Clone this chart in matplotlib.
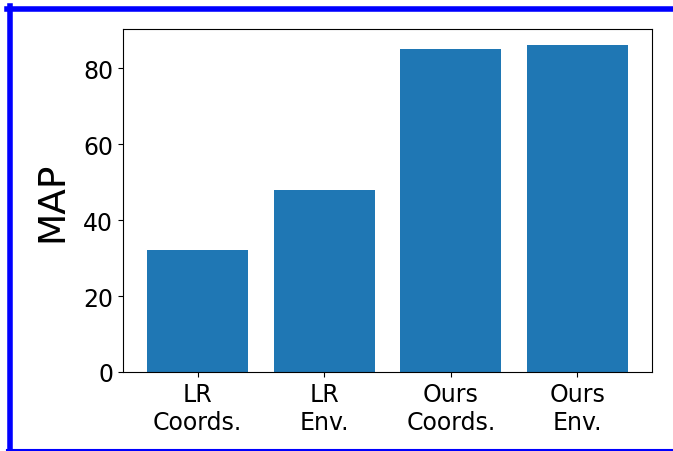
import matplotlib
matplotlib.use("Agg")
import matplotlib.pyplot as plt
from matplotlib.lines import Line2D

methods = ["LR\nCoords.", "LR\nEnv.", "Ours\nCoords.", "Ours\nEnv."]
map_scores = [32, 48, 85, 86]

fig = plt.figure(figsize=(6.73, 4.52), dpi=100)
ax = fig.add_axes([0.1828, 0.1748, 0.7860, 0.7588])

ax.bar(range(len(methods)), map_scores, color="#1f77b4")
ax.set_xticks(range(len(methods)))
ax.set_xticklabels(methods, fontsize=17)
ax.tick_params(axis="y", labelsize=17)
ax.set_ylabel("MAP", fontsize=27, labelpad=9)

# blue frame around the figure (left, top, bottom)
fig.add_artist(Line2D([0.0146, 0.0146], [0, 0.9835], transform=fig.transFigure, color="blue", lw=4))
fig.add_artist(Line2D([0.0106, 1.0], [0.9774, 0.9774], transform=fig.transFigure, color="blue", lw=4))
fig.add_artist(Line2D([0.0106, 1.0], [0.0018, 0.0018], transform=fig.transFigure, color="blue", lw=1.5))

fig.savefig("out.png", dpi=100)
